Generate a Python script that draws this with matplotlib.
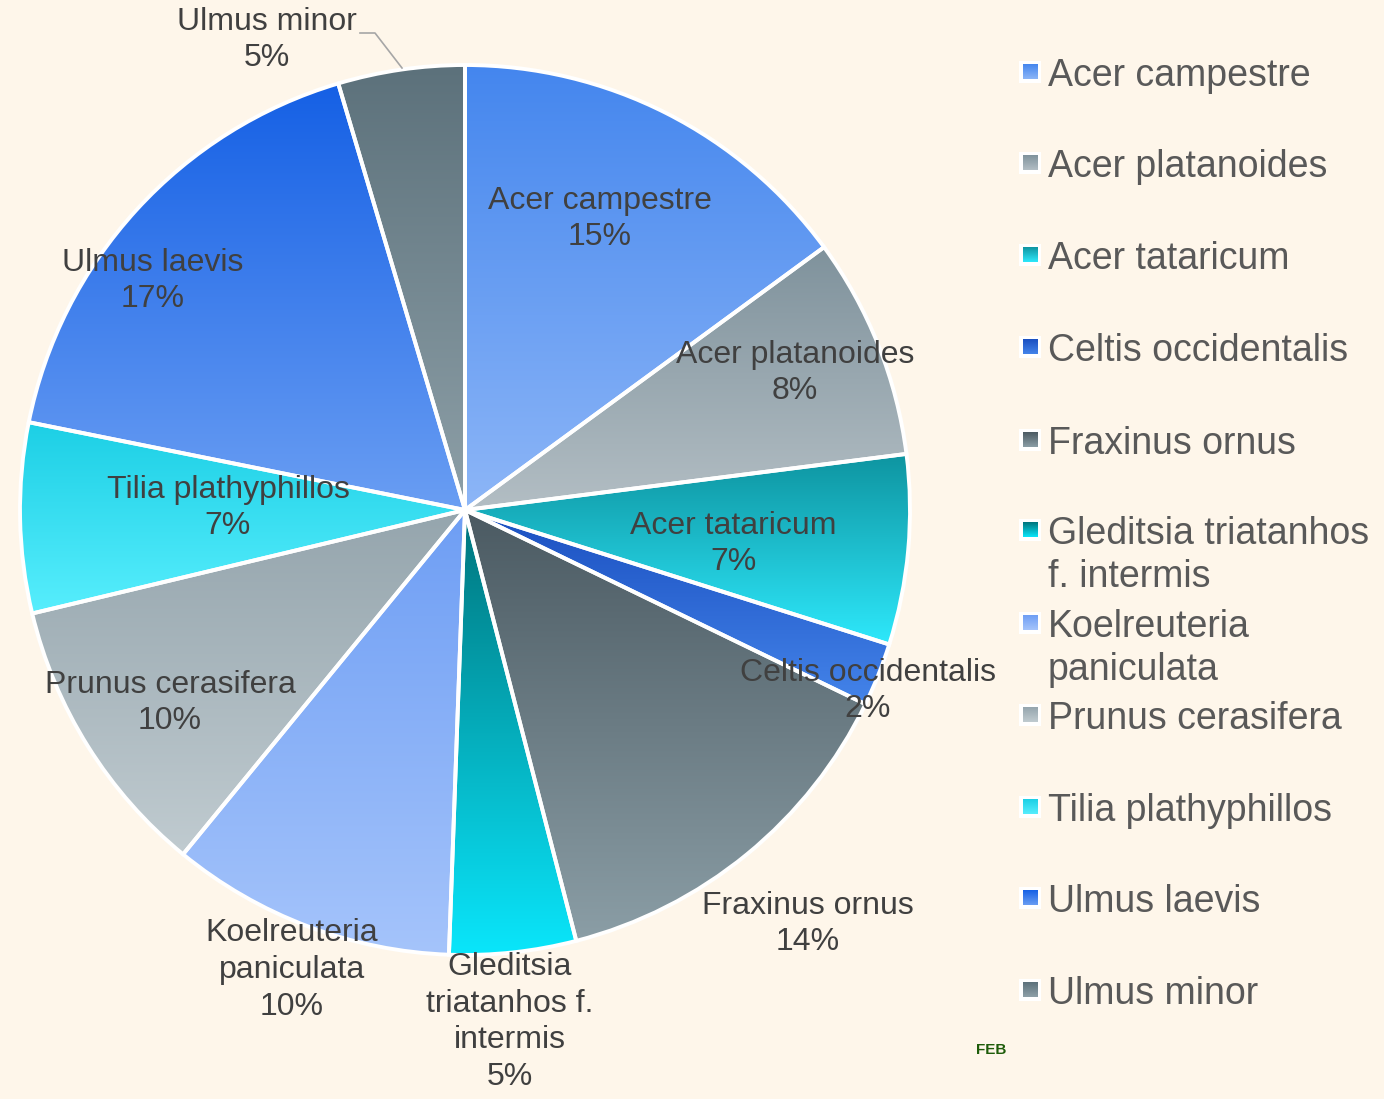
import numpy as np
import matplotlib
matplotlib.use("Agg")
import matplotlib.pyplot as plt
from matplotlib.colors import LinearSegmentedColormap
from matplotlib.patches import Rectangle

plt.rcParams['font.family'] = ['Liberation Sans', 'DejaVu Sans']

# ---- data ----
categories = ["Acer campestre", "Acer platanoides", "Acer tataricum",
              "Celtis occidentalis", "Fraxinus ornus",
              "Gleditsia triatanhos f. intermis", "Koelreuteria paniculata",
              "Prunus cerasifera", "Tilia plathyphillos", "Ulmus laevis",
              "Ulmus minor"]
counts = [13, 7, 6, 2, 12, 4, 9, 9, 6, 15, 4]
legend_labels = ["Acer campestre", "Acer platanoides", "Acer tataricum",
                 "Celtis occidentalis", "Fraxinus ornus",
                 "Gleditsia triatanhos\nf. intermis", "Koelreuteria\npaniculata",
                 "Prunus cerasifera", "Tilia plathyphillos", "Ulmus laevis",
                 "Ulmus minor"]
data_labels = ["Acer campestre", "Acer platanoides", "Acer tataricum",
               "Celtis occidentalis", "Fraxinus ornus",
               "Gleditsia\ntriatanhos f.\nintermis", "Koelreuteria\npaniculata",
               "Prunus cerasifera", "Tilia plathyphillos", "Ulmus laevis",
               "Ulmus minor"]

# gradient colours (top, bottom)
grad_top = ["#4486ee", "#7f929c", "#0e94a0", "#1a4fc0", "#4b5a62", "#00747c",
            "#6e9ef4", "#95a5ad", "#1ccfe5", "#1560e5", "#5c717b"]
grad_bot = ["#8db6f7", "#b3bec4", "#2ee8fb", "#4484ea", "#8b9ea6", "#0ae6fb",
            "#a5c4fb", "#c0cbd0", "#57eefd", "#6a9ef3", "#8ea0a8"]

BG = "#fef6ea"
W, H = 1384, 1099
fig = plt.figure(figsize=(W / 100, H / 100), dpi=100, facecolor=BG)

cx, cy, R = 465, 510, 445
ax = fig.add_axes([(cx - R) / W, (H - cy - R) / H, 2 * R / W, 2 * R / H])
ax.axis('off')

wedges, _ = ax.pie(counts, startangle=90, counterclock=False, radius=1,
                   center=(0, 0), frame=False,
                   wedgeprops=dict(edgecolor='white', linewidth=2.8))

grad = np.linspace(0, 1, 256).reshape(-1, 1)
for i, w in enumerate(wedges):
    w.set_facecolor('none')
    w.set_zorder(3)
    ext = w.get_path().get_extents()
    cmap = LinearSegmentedColormap.from_list(f"g{i}", [grad_bot[i], grad_top[i]])
    im = ax.imshow(grad, extent=[ext.x0, ext.x1, ext.y0, ext.y1], origin='lower',
                   cmap=cmap, aspect='auto', zorder=2, interpolation='bilinear')
    im.set_clip_path(w)
ax.set_aspect('auto')
ax.set_xlim(-1, 1)
ax.set_ylim(-1, 1)

total = sum(counts)

def fx(x):
    return x / W

def fy(y):
    return 1 - y / H

# data label positions (pixel centres)
label_pos = [(600, 219), (795, 373), (733, 544), (868, 691), (808, 924),
             (510, 1022), (292, 970), (170, 703), (228, 508), (153, 281),
             (267, 40)]
for i, (lab, c) in enumerate(zip(data_labels, counts)):
    pct = round(100 * c / total)
    x, y = label_pos[i]
    fig.text(fx(x), fy(y), f"{lab}\n{pct}%", ha='center', va='center',
             fontsize=23, color='#404040', linespacing=1.3, zorder=10)

# leader line for Ulmus minor
fig.add_artist(plt.Line2D([fx(360), fx(375), fx(402)], [fy(33), fy(33), fy(68)],
                          color='#a6a6a6', linewidth=1.2))

# legend
leg_y = [72, 163, 255, 347, 440, 530, 623, 715, 807, 898, 990]
for i, lab in enumerate(legend_labels):
    y = leg_y[i]
    s = 22
    x0 = 1019
    bax = fig.add_axes([fx(x0), fy(y + s / 2), s / W, s / H])
    bax.axis('off')
    bax.add_patch(Rectangle((0, 0), 1, 1, facecolor='white', edgecolor='none',
                            zorder=1))
    cmap = LinearSegmentedColormap.from_list(f"l{i}", [grad_bot[i], grad_top[i]])
    bax.imshow(grad, extent=[0.16, 0.84, 0.16, 0.84], origin='lower', cmap=cmap,
               aspect='auto', zorder=2)
    bax.set_xlim(0, 1)
    bax.set_ylim(0, 1)
    for j, line in enumerate(lab.split('\n')):
        fig.text(fx(1048), fy(y + 43 * j), line, ha='left', va='center_baseline',
                 fontsize=27, color='#595959')

fig.text(fx(991), fy(1050), "FEB", ha='center', va='center', fontsize=11,
         fontweight='bold', color='#1e5c0a')

fig.savefig("out.png", dpi=100, facecolor=BG)
